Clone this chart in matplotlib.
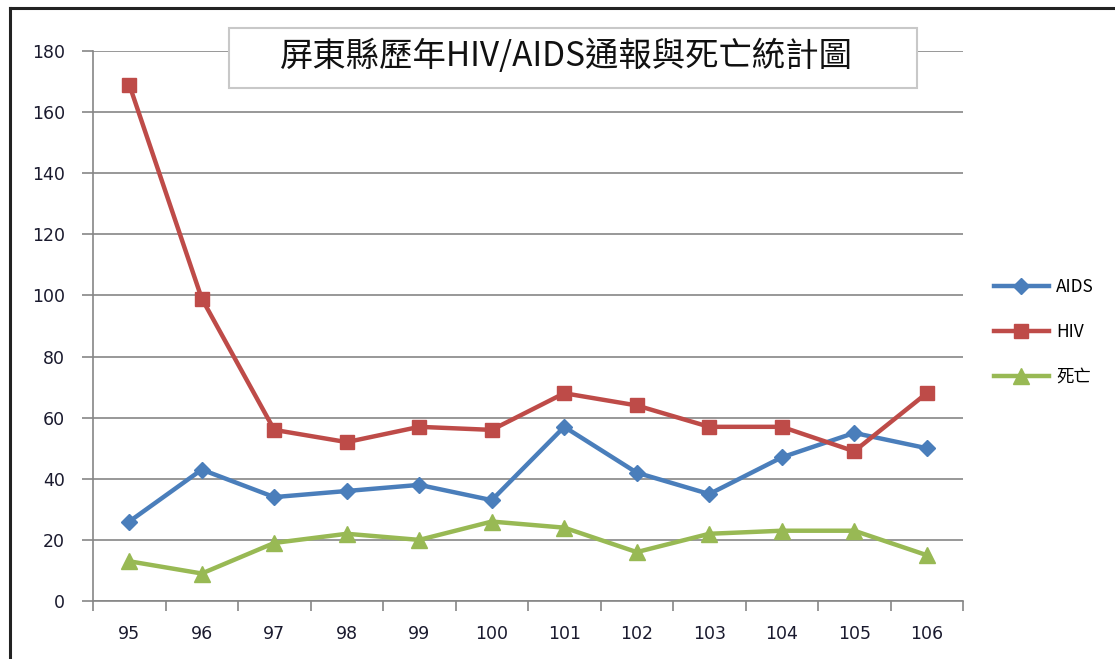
import matplotlib
matplotlib.use("Agg")
import matplotlib.pyplot as plt
from matplotlib.lines import Line2D
from matplotlib.patches import Rectangle
import numpy as np

plt.rcParams["font.family"] = ["Noto Sans CJK TC", "DejaVu Sans"]

years = ["95", "96", "97", "98", "99", "100", "101", "102", "103", "104", "105", "106"]
aids = [26, 43, 34, 36, 38, 33, 57, 42, 35, 47, 55, 50]
hiv = [169, 99, 56, 52, 57, 56, 68, 64, 57, 57, 49, 68]
death = [13, 9, 19, 22, 20, 26, 24, 16, 22, 23, 23, 15]
title = "屏東縣歷年HIV/AIDS通報與死亡統計圖"

W, H = 1115, 659
fig = plt.figure(figsize=(W / 100, H / 100), dpi=100)
ax = fig.add_axes([93 / W, 1 - 601 / H, 870 / W, 550 / H])

x = np.arange(len(years))
ax.plot(x, aids, color="#4A7EBB", lw=3.2, marker="D", ms=8, label="AIDS", zorder=3)
ax.plot(x, hiv, color="#BE4B48", lw=3.2, marker="s", ms=10, label="HIV", zorder=3)
ax.plot(x, death, color="#98B954", lw=3.2, marker="^", ms=11, label="死亡", zorder=3)

ax.set_xlim(-0.5, len(years) - 0.5)
ax.set_ylim(0, 180)
ax.set_yticks(range(0, 181, 20))
ax.set_xticks(x)
ax.set_xticklabels(years)
ax.set_xticks(np.arange(-0.5, len(years)), minor=True)
ax.tick_params(axis="x", which="major", length=0, pad=17, labelsize=12.5, labelcolor="#1a1a2e")
ax.tick_params(axis="x", which="minor", length=7, color="#868686", width=1.2)
ax.tick_params(axis="y", length=8, color="#868686", width=1.2, labelsize=12.5,
               labelcolor="#1a1a2e", pad=12)
for lab in ax.get_xticklabels() + ax.get_yticklabels():
    lab.set_family("DejaVu Sans")
ax.grid(axis="y", color="#868686", lw=1.2)
ax.set_axisbelow(True)
for s in ["top", "right"]:
    ax.spines[s].set_visible(False)
for s in ["left", "bottom"]:
    ax.spines[s].set_color("#868686")
    ax.spines[s].set_linewidth(1.2)

# title box
fig.add_artist(Rectangle((229 / W, 1 - 88 / H), 688 / W, 60 / H, transform=fig.transFigure,
                         fc="white", ec="#c8c8c8", lw=1.5, zorder=5))
fig.text(566 / W, 1 - 57 / H, title, ha="center", va="center", fontsize=24,
         color="#111111", zorder=6)

fig.legend(loc="center left", bbox_to_anchor=(978 / W, 1 - 332 / H), frameon=False,
           fontsize=12.5, handlelength=3.2, labelspacing=1.55, handletextpad=0.4)

# outer frame (top and left edges visible in crop)
fig.add_artist(Line2D([10 / W, 1], [1 - 8 / H, 1 - 8 / H], color="#222222", lw=2.2,
                      transform=fig.transFigure))
fig.add_artist(Line2D([10 / W, 10 / W], [0, 1 - 8 / H], color="#222222", lw=2.2,
                      transform=fig.transFigure))

fig.savefig("out.png", dpi=100)
